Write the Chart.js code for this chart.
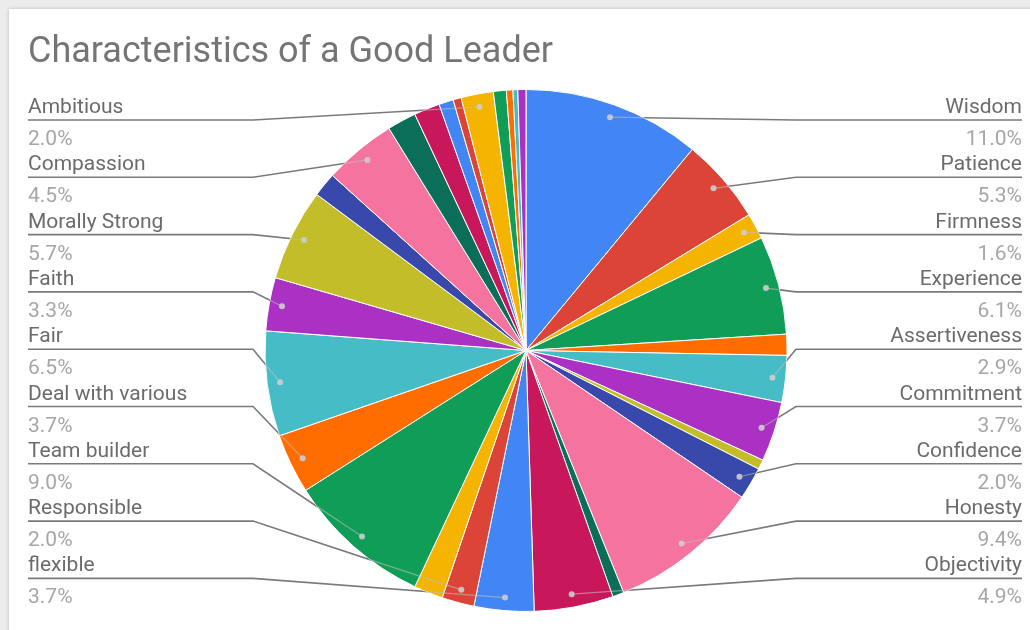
<!DOCTYPE html>
<html>
<head>
<meta charset="utf-8">
<script src="https://cdn.jsdelivr.net/npm/chart.js@4"></script>
<style>
  html, body { margin: 0; padding: 0; }
  body { width: 1030px; height: 630px; background: #ececec; overflow: hidden; position: relative; }
  .card { position: absolute; left: 9px; top: 9px; width: 1040px; height: 640px; background: #fff; box-shadow: 0 0 4px rgba(0,0,0,0.2); }
  canvas { position: absolute; left: 0; top: 0; }
</style>
</head>
<body>
<div class="card"></div>
<canvas id="pieChart" width="1030" height="630"></canvas>
<script>
var chartTitle = 'Characteristics of a Good Leader';

// clockwise from 12 o'clock; empty names are slices without a visible label
var categories = ['Wisdom', 'Patience', 'Firmness', 'Experience', '', 'Assertiveness', 'Commitment', '',
    'Confidence', 'Honesty', '', 'Objectivity', 'flexible', 'Responsible', '', 'Team builder',
    'Deal with various', 'Fair', 'Faith', 'Morally Strong', '', 'Compassion', '', '', '', '',
    'Ambitious', '', '', '', ''];
var values = [11.0, 5.3, 1.6, 6.1, 1.3, 2.9, 3.7, 0.6,
    2.0, 9.4, 0.7, 4.9, 3.7, 2.0, 1.8, 9.0,
    3.7, 6.5, 3.3, 5.7, 1.5, 4.5, 1.8, 1.6, 0.9, 0.5,
    2.0, 0.8, 0.4, 0.3, 0.5];

var palette = ['#4285f4', '#db4437', '#f4b400', '#0f9d58', '#ff6d00', '#46bdc6',
    '#ab30c4', '#c3bd2a', '#3949ab', '#f4739f', '#0b6e58', '#c8175a'];
var sliceColors = values.map(function(v, i) { return palette[i % palette.length]; });

var leaderLabels = {
    id: 'leaderLabels',
    beforeDraw: function(chart) {
        var ctx = chart.ctx;
        ctx.save();
        ctx.font = '36px Roboto';
        ctx.fillStyle = '#757575';
        ctx.textBaseline = 'alphabetic';
        ctx.fillText(chartTitle, 28, 62);
        ctx.restore();
    },
    afterDatasetsDraw: function(chart) {
        var ctx = chart.ctx;
        var meta = chart.getDatasetMeta(0);
        var total = values.reduce(function(a, b) { return a + b; }, 0);
        var right = [], left = [];
        var cx, cy, R;
        meta.data.forEach(function(arc, i) {
            var p = arc.getProps(['x', 'y', 'startAngle', 'endAngle', 'outerRadius'], true);
            cx = p.x; cy = p.y; R = p.outerRadius;
            if (!categories[i]) return;
            var mid = (p.startAngle + p.endAngle) / 2;
            var r = p.outerRadius * 0.95;
            var item = {
                name: categories[i],
                pct: (values[i] / total * 100).toFixed(1) + '%',
                px: p.x + Math.cos(mid) * r,
                py: p.y + Math.sin(mid) * r
            };
            if (Math.cos(mid) >= 0) right.push(item); else left.unshift(item);
        });

        function leader(points) {
            // part outside the pie
            ctx.save();
            ctx.beginPath();
            ctx.rect(0, 0, chart.width, chart.height);
            ctx.arc(cx, cy, R, 0, Math.PI * 2);
            ctx.clip('evenodd');
            ctx.beginPath();
            points.forEach(function(pt, k) { if (k) ctx.lineTo(pt[0], pt[1]); else ctx.moveTo(pt[0], pt[1]); });
            ctx.strokeStyle = '#7a7a7a';
            ctx.lineWidth = 1.6;
            ctx.stroke();
            ctx.restore();
            // faint part over the slice
            ctx.save();
            ctx.beginPath();
            ctx.arc(cx, cy, R, 0, Math.PI * 2);
            ctx.clip();
            ctx.beginPath();
            points.forEach(function(pt, k) { if (k) ctx.lineTo(pt[0], pt[1]); else ctx.moveTo(pt[0], pt[1]); });
            ctx.strokeStyle = 'rgba(190,190,190,0.6)';
            ctx.lineWidth = 1.2;
            ctx.stroke();
            ctx.restore();
            var last = points[points.length - 1];
            ctx.beginPath();
            ctx.arc(last[0], last[1], 3, 0, Math.PI * 2);
            ctx.fillStyle = 'rgba(205,205,205,0.9)';
            ctx.fill();
        }

        ctx.save();
        ctx.font = '21px Roboto';
        left.forEach(function(it, k) {
            var yl = 120 + k * 57.3;
            leader([[28, yl], [253, yl], [it.px, it.py]]);
            ctx.textAlign = 'left';
            ctx.fillStyle = '#6b6b6b';
            ctx.fillText(it.name, 28, yl - 7);
            ctx.fillStyle = '#a6a6a6';
            ctx.fillText(it.pct, 28, yl + 25);
        });
        right.forEach(function(it, k) {
            var yl = 120 + k * 57.3;
            leader([[1022, yl], [796, yl], [it.px, it.py]]);
            ctx.textAlign = 'right';
            ctx.fillStyle = '#6b6b6b';
            ctx.fillText(it.name, 1022, yl - 7);
            ctx.fillStyle = '#a6a6a6';
            ctx.fillText(it.pct, 1022, yl + 25);
        });
        ctx.restore();
    }
};

var pieChart = new Chart(document.getElementById('pieChart'), {
    type: 'pie',
    data: {
        labels: categories,
        datasets: [{
            data: values,
            backgroundColor: sliceColors,
            borderColor: '#ffffff',
            borderWidth: 1,
            hoverOffset: 0
        }]
    },
    options: {
        responsive: false,
        devicePixelRatio: 1,
        animation: false,
        layout: { padding: { left: 263, right: 241, top: 89, bottom: 18 } },
        plugins: {
            legend: { display: false },
            tooltip: { enabled: false }
        }
    },
    plugins: [leaderLabels]
});
</script>
</body>
</html>
